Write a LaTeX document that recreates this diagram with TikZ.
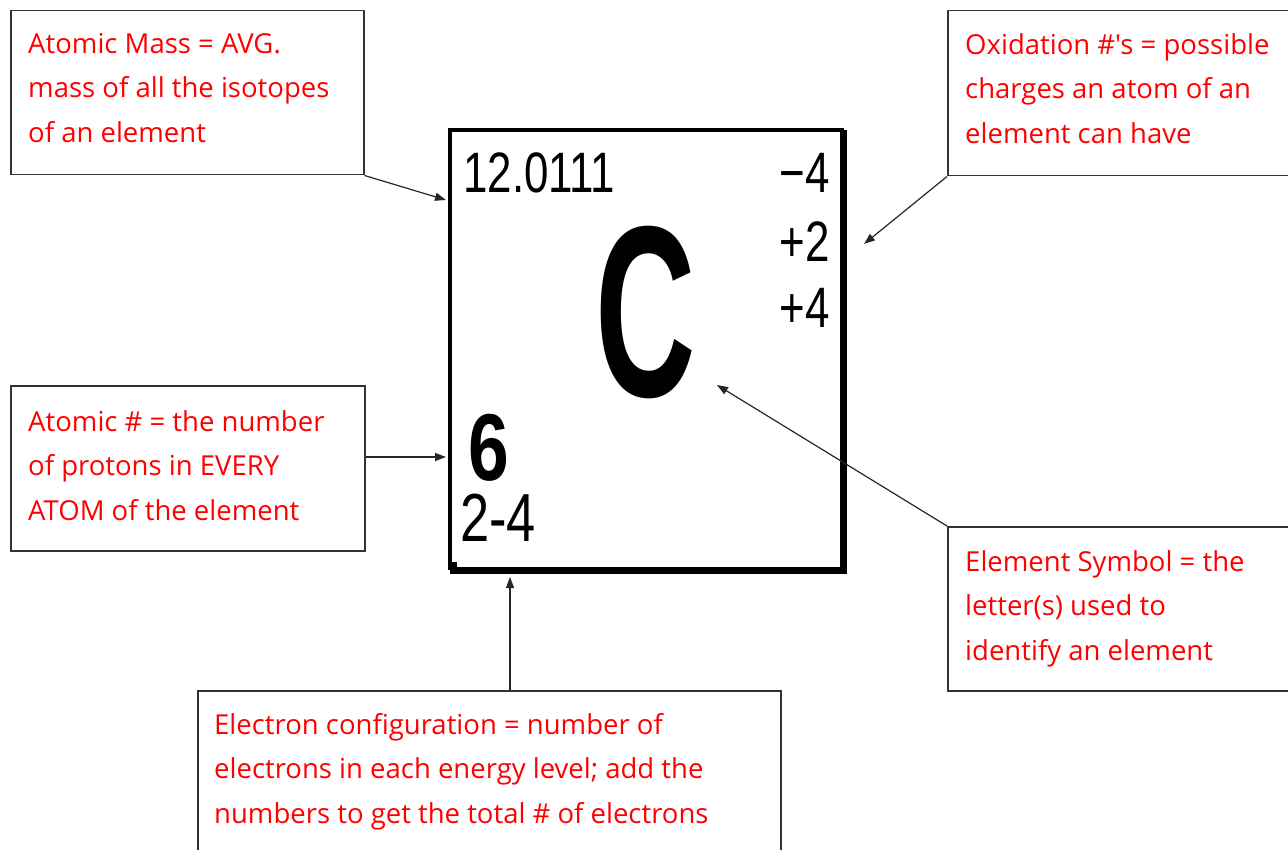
\documentclass[tikz,border=0pt]{standalone}
\usepackage{fontspec}
\usetikzlibrary{arrows.meta}
\newfontfamily\notefont{Open Sans}
\newfontfamily\tilefont[FakeStretch=0.77]{Liberation Sans}
\newfontfamily\symbolfont[FakeStretch=0.57]{Liberation Sans}
\definecolor{NoteRed}{HTML}{FF0000}

\begin{document}
\begin{tikzpicture}[x=1pt,y=-1pt,
    frame/.style={draw=black!80,line width=1.5pt,inner sep=0pt,anchor=north west},
    note/.style={text=NoteRed,font=\notefont\fontsize{27.5}{44.5}\selectfont,align=left,inner sep=0pt,anchor=north west},
    pointer/.style={-{Triangle[length=11pt,width=8pt]},line width=1.2pt,black!85},
    tiletext/.style={inner sep=0pt,text=black}]
  \clip (0,0) rectangle (1288,850);
  \fill[white] (0,0) rectangle (1288,850);

  \node[frame,minimum width=353pt,minimum height=164pt] (massbox) at (10,10) {};
  \node[frame,minimum width=360pt,minimum height=165pt] (oxbox) at (947,10) {};
  \node[frame,minimum width=354pt,minimum height=165pt] (anumbox) at (10,385) {};
  \node[frame,minimum width=360pt,minimum height=164pt] (symbox) at (947,526) {};
  \node[frame,minimum width=583pt,minimum height=220pt] (econfbox) at (197,690) {};

  \node[note] (masstext) at (28,33) {Atomic Mass = AVG.\\mass of all the isotopes\\of an element};
  \node[note] (oxtext) at (965,33) {Oxidation \#'s = possible\\charges an atom of an\\element can have};
  \node[note] (anumtext) at (28,410) {Atomic \# = the number\\of protons in EVERY\\ATOM of the element};
  \node[note] (symtext) at (965,550) {Element Symbol = the\\letter(s) used to\\identify an element};
  \node[note] (econftext) at (214,713) {Electron configuration = number of\\electrons in each energy level; add the\\numbers to get the total \# of electrons};

  \node[inner sep=0pt,minimum width=393.5pt,minimum height=440pt,anchor=north west] (tile) at (450,130) {};
  \draw[line width=3.5pt] (tile.south west) -- (tile.north west) -- (tile.north east);
  \draw[line width=7pt] (tile.north east) -- (tile.south east) -- (tile.south west);
  \fill (tile.south west) ++(-1,-8) rectangle ++(8,8);

  \node[tiletext,anchor=base west,font=\tilefont\fontsize{57}{60}\selectfont] (mass) at (463,193) {12.0111};
  \node[tiletext,anchor=base east,font=\tilefont\fontsize{57}{60}\selectfont] (oxa) at (830,193) {−4};
  \node[tiletext,anchor=base east,font=\tilefont\fontsize{57}{60}\selectfont] (oxb) at (830,262) {+2};
  \node[tiletext,anchor=base east,font=\tilefont\fontsize{57}{60}\selectfont] (oxc) at (830,327) {+4};
  \node[tiletext,anchor=base,font=\symbolfont\bfseries\fontsize{244}{248}\selectfont] (sym) at (646,396) {C};
  \node[tiletext,anchor=base,text height=68pt,text depth=0pt,font=\tilefont\bfseries\fontsize{95}{100}\selectfont] (anum) at (489,480) {6};
  \node[tiletext,anchor=base west,text height=49pt,text depth=0pt,font=\tilefont\fontsize{68}{70}\selectfont] (econf) at (460,541) {2-4};

  \coordinate (masstip) at (446,200);
  \coordinate (oxtip) at (864,244);
  \coordinate (anumtip) at (446,457);
  \coordinate (econftip) at (510,577);
  \coordinate (symtip) at (717,385);

  \draw[pointer] (massbox.south east) -- (masstip);
  \draw[pointer] (oxbox.south west) -- (oxtip);
  \draw[pointer] (anumbox.east |- anumtip) -- (anumtip);
  \draw[pointer] (econfbox.north -| econftip) -- (econftip);
  \draw[pointer] (symbox.north west) -- (symtip);
\end{tikzpicture}
\end{document}
